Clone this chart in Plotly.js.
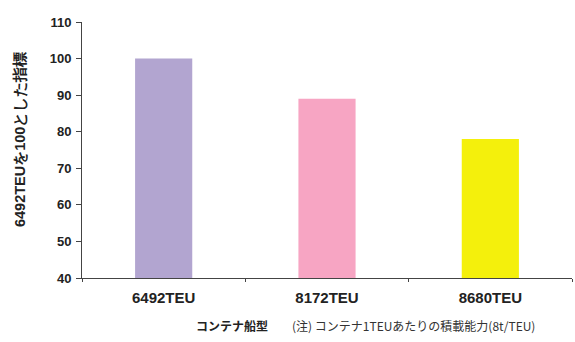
<!DOCTYPE html>
<html>
<head>
<meta charset="utf-8">
<script src="https://cdn.plot.ly/plotly-3.0.1.min.js"></script>
<style>html,body{margin:0;padding:0;background:#fff;}#chart{width:575px;height:342px;}</style>
</head>
<body>
<div id="chart"></div>
<script>
const categories = ["6492TEU", "8172TEU", "8680TEU"];
const values = [100, 89, 78];
const barColors = ["#b2a5d0", "#f7a5c3", "#f4f00c"];
const yTicks = [40, 50, 60, 70, 80, 90, 100, 110];

const font = "Arial, sans-serif";
const cjk = "Noto Sans CJK JP, sans-serif";

Plotly.newPlot("chart", [{
  type: "bar",
  x: categories,
  y: values,
  marker: {color: barColors, line: {width: 0}},
  width: 0.35,
  hoverinfo: "none"
}], {
  width: 575, height: 342,
  margin: {l: 82, r: 3, t: 22, b: 64},
  paper_bgcolor: "#fff", plot_bgcolor: "#fff",
  showlegend: false,
  xaxis: {
    showline: true, linecolor: "#444", linewidth: 1,
    ticks: "outside", tickson: "boundaries", ticklen: 3, tickcolor: "#444",
    tickvals: categories, ticktext: categories.map(c => "<b>" + c + "</b>"),
    ticklabelstandoff: 6,
    tickfont: {family: font, size: 15, color: "#222"},
    showgrid: false, zeroline: false
  },
  yaxis: {
    range: [40, 110], tickvals: yTicks, ticktext: yTicks.map(v => "<b>" + v + "</b>"),
    showline: true, linecolor: "#444", linewidth: 1,
    ticks: "outside", ticklen: 5, tickcolor: "#444",
    ticklabelstandoff: 2,
    tickfont: {family: font, size: 13, color: "#222"},
    showgrid: false, zeroline: false
  },
  annotations: [
    {text: "<b>6492TEUを100とした指標</b>", xref: "paper", yref: "paper", x: -0.128, y: 0.54, xanchor: "center", yanchor: "middle", textangle: -90, showarrow: false,
     font: {family: font, size: 14.5, color: "#222"}},
    {text: "<b>コンテナ船型</b>", xref: "paper", yref: "paper", x: 0.306, y: -0.185, xanchor: "center", yanchor: "middle", showarrow: false,
     font: {family: cjk, size: 12, color: "#222"}},
    {text: "(注) コンテナ1TEUあたりの積載能力(8t/TEU)", xref: "paper", yref: "paper", x: 0.424, y: -0.185, xanchor: "left", yanchor: "middle", showarrow: false,
     font: {family: cjk, size: 12, color: "#333"}}
  ]
}, {staticPlot: true});
</script>
</body>
</html>
